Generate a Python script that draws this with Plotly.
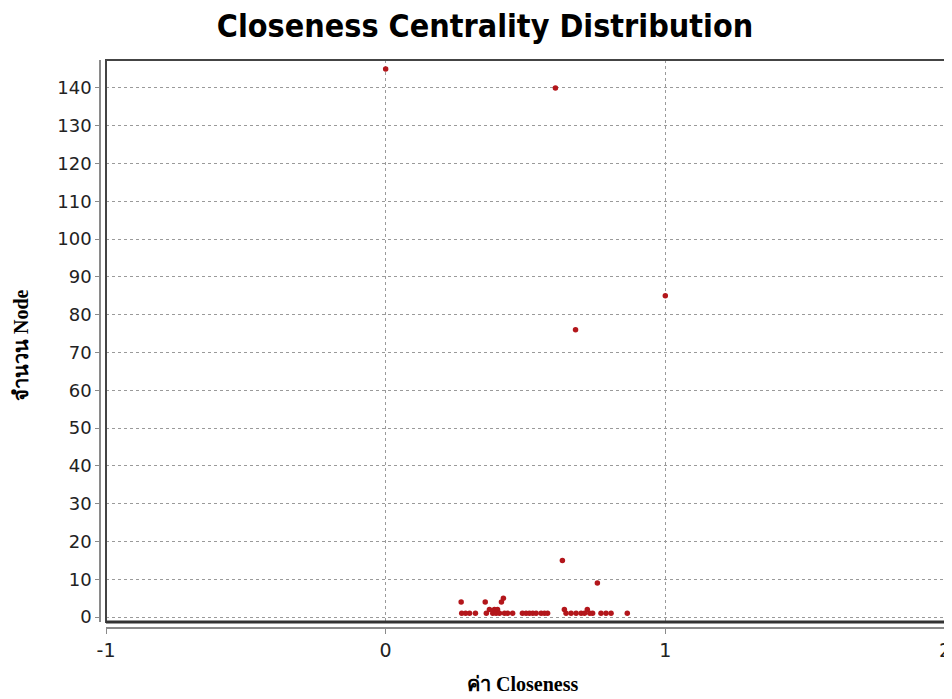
import plotly.graph_objects as go

# Closeness value -> number of nodes
closeness = [0.0, 0.607, 0.679, 1.0, 0.632, 0.757,
             0.270, 0.272, 0.286, 0.300, 0.321, 0.356, 0.360, 0.371, 0.383, 0.389,
             0.395, 0.400, 0.407, 0.414, 0.421, 0.425, 0.436, 0.454, 0.489, 0.502,
             0.514, 0.526, 0.538, 0.556, 0.568, 0.579, 0.639, 0.645, 0.663, 0.681,
             0.699, 0.711, 0.721, 0.730, 0.740, 0.770, 0.788, 0.806, 0.864]
node_count = [145, 140, 76, 85, 15, 9,
              4, 1, 1, 1, 1, 4, 1, 2, 1, 2,
              1, 2, 1, 4, 5, 1, 1, 1, 1, 1,
              1, 1, 1, 1, 1, 1, 2, 1, 1, 1,
              1, 1, 2, 1, 1, 1, 1, 1, 1]

x_ticks = [-1, 0, 1, 2]
y_ticks = list(range(0, 141, 10))

title_text = "Closeness Centrality Distribution"
x_title = "ค่า Closeness"
y_title = "จำนวน Node"

fig = go.Figure()
fig.add_trace(go.Scatter(
    x=closeness, y=node_count, mode="markers",
    marker=dict(color="#b3161b", size=5.5),
    showlegend=False, cliponaxis=False,
))

# page body has an 8px margin; work in reference pixels and subtract it
OFF = 8
W, H = 952 - OFF, 699 - OFF
ml, mr, mt, mb = 100 - OFF, 7, 52 - OFF, 71
pw, ph = W - ml - mr, H - mt - mb

def px(xp):
    return (xp - OFF - ml) / pw

def py(yp):
    return (H - mb - (yp - OFF)) / ph

fig.update_layout(
    width=W, height=H,
    margin=dict(l=ml, r=mr, t=mt, b=mb, autoexpand=False),
    paper_bgcolor="white", plot_bgcolor="white",
    title=dict(text=f"<b>{title_text}</b>", x=(485 - OFF) / W, xanchor="center",
               y=1 - (26 - OFF) / H, yanchor="middle",
               font=dict(family="DejaVu Sans Condensed, Liberation Sans Narrow, Arial Narrow, sans-serif",
                         size=32, color="black")),
    xaxis=dict(
        domain=[px(106), 1.0], range=[-1, 2.0001], anchor="free", position=0,
        automargin=False,
        tickvals=x_ticks, ticktext=[str(v) for v in x_ticks],
        showline=True, linecolor="#8a8a8a", linewidth=1.5,
        ticks="outside", ticklen=5, tickcolor="#8a8a8a",
        showgrid=True, gridcolor="#9a9a9a", griddash="dot", gridwidth=1,
        zeroline=False,
        tickfont=dict(family="DejaVu Sans", size=19, color="#222"),
    ),
    yaxis=dict(
        domain=[py(622), py(60)], range=[-1.3, 147.4], anchor="free", position=0,
        automargin=False,
        tickvals=y_ticks,
        showline=True, linecolor="#8a8a8a", linewidth=1.5,
        ticks="outside", ticklen=4, tickcolor="#8a8a8a",
        showgrid=True, gridcolor="#9a9a9a", griddash="dot", gridwidth=1,
        zeroline=False,
        tickfont=dict(family="DejaVu Sans", size=18, color="#222"),
    ),
    annotations=[
        dict(text=f"<b>{x_title}</b>", xref="paper", yref="paper",
             x=px(522), y=py(684), xanchor="center", yanchor="middle", showarrow=False,
             font=dict(family="Liberation Serif, serif", size=20, color="black")),
        dict(text=f"<b>{y_title}</b>", xref="paper", yref="paper",
             x=px(21), y=py(345), xanchor="center", yanchor="middle", showarrow=False,
             textangle=-90,
             font=dict(family="Liberation Serif, serif", size=20, color="black")),
    ],
    shapes=[
        dict(type="rect", xref="x domain", yref="y domain", x0=0, x1=1, y0=0, y1=1,
             line=dict(color="#444", width=2), layer="above"),
        dict(type="line", xref="x domain", yref="y domain", x0=0, x1=1, y0=0, y1=0,
             line=dict(color="#333", width=3), layer="above"),
    ],
)

fig.write_html("out.html")
